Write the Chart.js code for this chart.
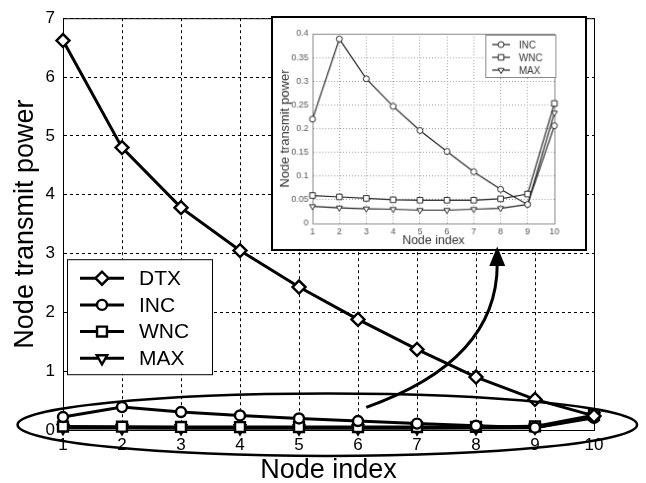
<!DOCTYPE html>
<html>
<head>
<meta charset="utf-8">
<title>Node transmit power</title>
<script src="https://cdn.jsdelivr.net/npm/chart.js@4.4.1/dist/chart.umd.min.js"></script>
<style>
  html, body { margin: 0; padding: 0; background: #fff; }
  #wrap { position: relative; width: 646px; height: 483px; overflow: hidden; }
  #main, #over { position: absolute; left: 0; top: 0; }
  #over { pointer-events: none; }
  #inset { position: absolute; left: 271px; top: 16px; border: 2px solid #000; background: #fff; }
</style>
</head>
<body>
<div id="wrap">
  <canvas id="main" width="646" height="483"></canvas>
  <canvas id="inset" width="316" height="235"></canvas>
  <canvas id="over" width="646" height="483"></canvas>
</div>
<script>
(function (Chart) {

    "use strict";

    // node index on the x axis
    var nodes = ['1', '2', '3', '4', '5', '6', '7', '8', '9', '10'];

    // transmit power per node
    var dtx = [6.62, 4.80, 3.78, 3.05, 2.43, 1.88, 1.37, 0.90, 0.52, 0.24];
    var inc = [0.220, 0.389, 0.305, 0.247, 0.196, 0.152, 0.109, 0.072, 0.040, 0.206];
    var wnc = [0.059, 0.056, 0.053, 0.050, 0.049, 0.049, 0.049, 0.052, 0.062, 0.253];
    var max = [0.036, 0.033, 0.031, 0.030, 0.028, 0.028, 0.030, 0.032, 0.040, 0.233];

    var mainYTicks = [0, 1, 2, 3, 4, 5, 6, 7];
    var insetYTicks = [0, 0.05, 0.1, 0.15, 0.2, 0.25, 0.3, 0.35, 0.4];

    var SANS = 'Arial, "Liberation Sans", sans-serif';
    var NARROW = '"Liberation Sans Narrow", "Arial Narrow", Arial, sans-serif';

    function series(label, values, style, radius, width, color) {
        return {
            label: label,
            data: values,
            borderColor: color,
            borderWidth: width,
            backgroundColor: '#fff',
            pointStyle: style,
            pointRotation: style === 'triangle' ? 180 : 0,
            pointRadius: radius,
            pointBorderWidth: width * 0.8,
            pointBorderColor: color,
            pointBackgroundColor: '#fff',
            tension: 0,
            clip: false
        };
    }

    function fixTicks(list) {
        return function (scale) {
            scale.ticks = list.map(function (v) { return { value: v }; });
        };
    }

    // MATLAB prints 0.4 rather than 0.40
    function shortNum(v) {
        return String(+Number(v).toFixed(3));
    }

    // MATLAB style closed box round the plot area
    var boxPlugin = {
        id: 'plotBox',
        beforeDatasetsDraw: function (chart, args, opts) {
            var ca = chart.chartArea, ctx = chart.ctx;
            ctx.save();
            ctx.strokeStyle = opts.color;
            ctx.lineWidth = 1;
            ctx.strokeRect(ca.left + 0.5, ca.top + 0.5, ca.right - ca.left, ca.bottom - ca.top);
            ctx.restore();
        }
    };

    // legend with the line running through the marker
    var legendPlugin = {
        id: 'lineLegend',
        afterDatasetsDraw: function (chart, args, o) {
            var ctx = chart.ctx, ca = chart.chartArea;
            var bx = ca.left + o.left, by = ca.top + o.top;
            ctx.save();
            ctx.fillStyle = '#fff';
            ctx.fillRect(bx, by, o.width, o.height);
            ctx.strokeStyle = o.frame;
            ctx.lineWidth = 1;
            ctx.strokeRect(bx + 0.5, by + 0.5, o.width, o.height);
            chart.data.datasets.forEach(function (ds, i) {
                var y = by + o.first + i * o.row;
                ctx.strokeStyle = ds.borderColor;
                ctx.lineWidth = ds.borderWidth;
                ctx.beginPath();
                ctx.moveTo(bx + o.lineFrom, y);
                ctx.lineTo(bx + o.lineTo, y);
                ctx.stroke();
                ctx.fillStyle = '#fff';
                ctx.lineWidth = ds.pointBorderWidth;
                Chart.helpers.drawPoint(ctx, {
                    pointStyle: ds.pointStyle,
                    rotation: ds.pointRotation,
                    radius: ds.pointRadius,
                    borderWidth: ds.pointBorderWidth
                }, bx + (o.lineFrom + o.lineTo) / 2, y);
                ctx.fillStyle = o.color;
                ctx.font = o.font;
                ctx.textBaseline = 'middle';
                ctx.textAlign = 'left';
                ctx.fillText(ds.label, bx + o.text, y + 1);
            });
            ctx.restore();
        }
    };

    var mainChart = new Chart(document.getElementById('main').getContext('2d'), {
        type: 'line',
        data: {
            labels: nodes,
            datasets: [
                series('DTX', dtx, 'rectRot', 6.5, 3, '#000'),
                series('INC', inc, 'circle', 5, 3, '#000'),
                series('WNC', wnc, 'rect', 7, 3, '#000'),
                series('MAX', max, 'triangle', 6, 3, '#000')
            ]
        },
        options: {
            responsive: false,
            animation: false,
            events: [],
            layout: { padding: { top: 12, right: 52, left: 0, bottom: 0 } },
            plugins: {
                legend: { display: false },
                tooltip: { enabled: false },
                plotBox: { color: '#000' },
                lineLegend: {
                    left: 4, top: 241, width: 145, height: 115,
                    first: 19, row: 26.7, lineFrom: 13, lineTo: 57, text: 72,
                    font: '21px ' + SANS, color: '#000', frame: '#000'
                }
            },
            scales: {
                x: {
                    type: 'category',
                    offset: false,
                    afterFit: function (s) { s.height = 53; },
                    grid: { color: '#000', lineWidth: 1, drawTicks: false },
                    border: { display: true, color: '#000', width: 1, dash: [3, 3] },
                    ticks: { color: '#000', padding: 5, font: { family: NARROW, size: 17 }, maxRotation: 0 },
                    title: {
                        display: true, text: 'Node index', color: '#000',
                        font: { family: SANS, size: 27, lineHeight: 0.9 },
                        padding: { top: 0, bottom: 0 }
                    }
                },
                y: {
                    min: 0, max: 7,
                    afterBuildTicks: fixTicks(mainYTicks),
                    afterFit: function (s) { s.width = 63; },
                    grid: { color: '#000', lineWidth: 1, drawTicks: false },
                    border: { display: true, color: '#000', width: 1, dash: [3, 3] },
                    ticks: { color: '#000', padding: 8, font: { family: NARROW, size: 17 } },
                    title: {
                        display: true, text: 'Node transmit power', color: '#000',
                        font: { family: SANS, size: 27, lineHeight: 0.9 },
                        padding: { top: 13, bottom: 0 }
                    }
                }
            }
        },
        plugins: [boxPlugin, legendPlugin]
    });

    // zoomed view of the three low curves
    new Chart(document.getElementById('inset').getContext('2d'), {
        type: 'line',
        data: {
            labels: nodes,
            datasets: [
                series('INC', inc, 'circle', 3, 1.2, '#222'),
                series('WNC', wnc, 'rect', 4, 1.2, '#222'),
                series('MAX', max, 'triangle', 3.5, 1.2, '#222')
            ]
        },
        options: {
            responsive: false,
            animation: false,
            events: [],
            layout: { padding: { top: 16, right: 31, left: 0, bottom: 0 } },
            plugins: {
                legend: { display: false },
                tooltip: { enabled: false },
                plotBox: { color: '#888' },
                lineLegend: {
                    left: 175, top: 1, width: 71, height: 43,
                    first: 10, row: 13, lineFrom: 7, lineTo: 25, text: 34,
                    font: '10px ' + SANS, color: '#333', frame: '#888'
                }
            },
            scales: {
                x: {
                    type: 'category',
                    offset: false,
                    afterFit: function (s) { s.height = 26; },
                    grid: { color: '#999', lineWidth: 1, drawTicks: false },
                    border: { display: true, color: '#888', width: 1, dash: [1, 2] },
                    ticks: { color: '#555', padding: 3, font: { family: NARROW, size: 9 }, maxRotation: 0 },
                    title: {
                        display: true, text: 'Node index', color: '#333',
                        font: { family: SANS, size: 12.5, lineHeight: 1 },
                        padding: { top: 0, bottom: 2 }
                    }
                },
                y: {
                    min: 0, max: 0.4,
                    afterBuildTicks: fixTicks(insetYTicks),
                    afterFit: function (s) { s.width = 40; },
                    grid: { color: '#999', lineWidth: 1, drawTicks: false },
                    border: { display: true, color: '#888', width: 1, dash: [1, 2] },
                    ticks: { color: '#555', padding: 4, font: { family: NARROW, size: 9 }, callback: shortNum },
                    title: {
                        display: true, text: 'Node transmit power', color: '#333',
                        font: { family: SANS, size: 13, lineHeight: 1 },
                        padding: { top: 6, bottom: 0 }
                    }
                }
            }
        },
        plugins: [boxPlugin, legendPlugin]
    });

    // ellipse round the low curves and the arrow up to the inset,
    // given in main chart units (x as node position, y as power)
    var ring = { cx: 4.48, cy: 0.09, rx: 5.25, ry: 0.53 };
    var arrow = { from: [5.14, 0.385], bend: [7.36, 1.17], to: [7.36, 2.82], tip: 3.12 };

    (function drawNotes() {
        var xs = mainChart.scales.x, ys = mainChart.scales.y;
        var ctx = document.getElementById('over').getContext('2d');
        var px = function (v) { return xs.getPixelForValue(v); };
        var py = function (v) { return ys.getPixelForValue(v); };
        var unitX = px(1) - px(0), unitY = py(0) - py(1);

        ctx.strokeStyle = '#000';
        ctx.lineWidth = 2.5;
        ctx.beginPath();
        ctx.ellipse(px(ring.cx), py(ring.cy), ring.rx * unitX, ring.ry * unitY, 0, 0, Math.PI * 2);
        ctx.stroke();

        ctx.lineWidth = 3;
        ctx.beginPath();
        ctx.moveTo(px(arrow.from[0]), py(arrow.from[1]));
        ctx.quadraticCurveTo(px(arrow.bend[0]), py(arrow.bend[1]), px(arrow.to[0]), py(arrow.to[1]));
        ctx.stroke();

        var tx = px(arrow.to[0]), ty = py(arrow.tip), by = py(arrow.to[1]);
        ctx.fillStyle = '#000';
        ctx.beginPath();
        ctx.moveTo(tx, ty);
        ctx.lineTo(tx + 8, by + 2);
        ctx.lineTo(tx - 8, by + 2);
        ctx.closePath();
        ctx.fill();
    })();

})(Chart);
</script>
</body>
</html>
